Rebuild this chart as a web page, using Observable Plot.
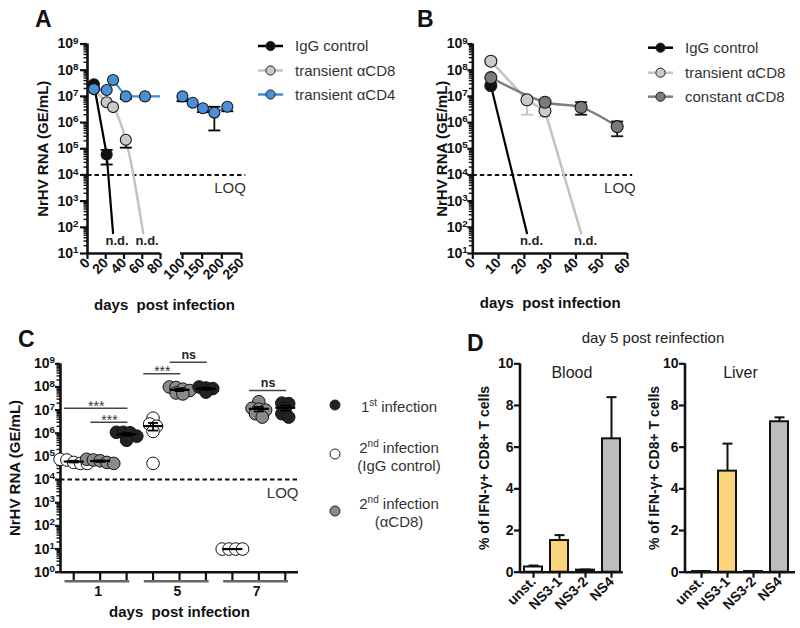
<!DOCTYPE html>
<html>
<head>
<meta charset="utf-8">
<script src="https://cdn.jsdelivr.net/npm/d3@7"></script>
<script src="https://cdn.jsdelivr.net/npm/@observablehq/plot@0.6"></script>
<style>
  html, body { margin: 0; padding: 0; background: #fff; }
  #fig { position: relative; width: 800px; height: 628px; overflow: hidden; background: #fff; }
</style>
</head>
<body>
<div id="fig"></div>
<script>
// ======================= DATA =======================
const LOQ = 1e4;
const ND_LEVEL = 60; // level at which "n.d." end points are drawn

// ---- Panel A ----
const A_SERIES = ["IgG control", "transient αCD8", "transient αCD4"];
const A_IGG_DAYS = [7, 21];
const A_IGG_VALS = [2.9e7, 6e4];
const A_TCD8_DAYS = [7, 21, 28, 42];
const A_TCD8_VALS = [1.9e7, 6e6, 3.9e6, 2.2e5];
const A_TCD4_DAYS = [7, 21, 28, 42, 63, 100, 126, 152, 181, 214];
const A_TCD4_VALS = [1.9e7, 1.75e7, 4.2e7, 1e7, 1e7, 1e7, 5.7e6, 3.5e6, 2.4e6, 4e6];
const A_ND_DAYS = [28, 61, null];
const A_ERR_SERIES = [0, 1, 2, 2, 2, 2, 2];
const A_ERR_DAYS = [21, 42, 42, 100, 152, 181, 214];
const A_ERR_LO = [2.5e4, 1.1e5, 8e6, 6.5e6, 2.5e6, 5e5, 2.7e6];
const A_ERR_HI = [9e4, null, null, null, null, 4e6, null];
const A_XTICKS = [0, 20, 40, 60, 80, 100, 150, 200, 250];

// ---- Panel B ----
const B_SERIES = ["IgG control", "transient αCD8", "constant αCD8"];
const B_IGG_DAYS = [7];
const B_IGG_VALS = [2.6e7];
const B_TCD8_DAYS = [7, 21, 28];
const B_TCD8_VALS = [2.2e8, 7.4e6, 2.8e6];
const B_CCD8_DAYS = [7, 28, 42, 56];
const B_CCD8_VALS = [5.2e7, 6e6, 3.8e6, 7e5];
const B_ND_DAYS = [21, 42, null];
const B_ERR_SERIES = [1, 1, 2, 2];
const B_ERR_DAYS = [21, 28, 42, 56];
const B_ERR_LO = [2e6, 1.7e6, 2e6, 3e5];
const B_ERR_HI = [null, null, 6e6, 1.1e6];
const B_XTICKS = [0, 10, 20, 30, 40, 50, 60];

// ---- Panel C ----
const C_DAYS = [1, 5, 7];
const C_GROUPS = ["2nd infection (IgG control)", "2nd infection (αCD8)", "1st infection"];
const C_IGG_D1 = [7.5e4, 7e4, 5.5e4, 5e4, 5e4];
const C_CD8_D1 = [7.5e4, 7e4, 6.5e4, 5.5e4, 5e4];
const C_1ST_D1 = [1.1e6, 1.1e6, 1.05e6, 7.5e5, 5e5];
const C_IGG_D5 = [4.5e6, 2.5e6, 2e6, 1.2e6, 5e4];
const C_CD8_D5 = [1e8, 9.5e7, 8e7, 7e7, 5.5e7, 5e7];
const C_1ST_D5 = [1e8, 9e7, 8.5e7, 6e7];
const C_IGG_D7 = [10, 10, 10, 10];
const C_CD8_D7 = [2.3e7, 1.2e7, 1.1e7, 1e7, 7e6, 5e6];
const C_1ST_D7 = [2e7, 1.9e7, 1.2e7, 7e6, 5e6];
const C_SIG_FROM = [1, 2, 4, 5, 8];
const C_SIG_TO = [3, 3, 5, 6, 9];
const C_SIG_Y = [1.2e7, 3e6, 3.7e8, 1.17e9, 7e7];
const C_SIG_TEXT = ["***", "***", "***", "ns", "ns"];

// ---- Panel D ----
const D_CATS = ["unst.", "NS3-1", "NS3-2", "NS4"];
const D_BLOOD = [0.25, 1.52, 0.1, 6.4];
const D_BLOOD_HI = [0.32, 1.78, 0.13, 8.4];
const D_LIVER = [0.03, 4.85, 0.03, 7.22];
const D_LIVER_HI = [0.05, 6.17, 0.05, 7.43];

// ======================= HELPERS =======================
const FONT = '"Liberation Sans", Arial, Helvetica, sans-serif';
const fig = document.getElementById("fig");
const baseStyle = {fontFamily: FONT, fontSize: "14px", background: "transparent", overflow: "visible", color: "#111"};
const CAP = {draw(ctx, size) { const w = Math.sqrt(size / Math.PI); ctx.moveTo(-w, 0); ctx.lineTo(w, 0); }};

function mount(svg, left, top, tickFont = 14) {
  svg.style.position = "absolute";
  svg.style.left = left + "px";
  svg.style.top = top + "px";
  svg.style.maxWidth = "none";
  fig.appendChild(svg);
  svg.querySelectorAll('g[aria-label$="tick label"] text').forEach(t => {
    t.style.fontSize = tickFont + "px";
    t.style.fontWeight = "bold";
    t.style.fill = "#111";
  });
  svg.querySelectorAll("text").forEach(t => {
    const m = /^10\^(-?\d+)$/.exec(t.textContent);
    if (m) {
      t.textContent = "10";
      const ts = document.createElementNS("http://www.w3.org/2000/svg", "tspan");
      ts.setAttribute("dy", "-0.5em");
      ts.style.fontSize = "0.7em";
      ts.textContent = m[1];
      t.appendChild(ts);
    }
  });
}

function logAxisMarks(lo, hi, tickSize, pad) {
  const majors = d3.range(lo, hi + 1).map(k => 10 ** k);
  const minors = d3.range(lo, hi).flatMap(k => d3.range(2, 10).map(m => m * 10 ** k));
  return [
    Plot.axisY({ticks: minors, tickSize: 3.5, tickFormat: () => "", strokeWidth: 1.4, label: null}),
    Plot.axisY({ticks: majors, tickSize, tickPadding: pad, tickFormat: d => `10^${Math.round(Math.log10(d))}`,
      strokeWidth: 2.2, label: null})
  ];
}

function buildSeries(names, daysArr, valsArr) {
  return names.flatMap((s, k) => daysArr[k].map((d, i) => ({s, day: d, v: valsArr[k][i]})));
}
function buildErr(names, rows, sIdx, days, lo, hi) {
  return days.map((d, i) => {
    const s = names[sIdx[i]];
    const pt = rows.find(r => r.s === s && r.day === d);
    return {s, day: d, lo: lo[i], hi: hi[i] ?? pt.v, two: hi[i] != null};
  });
}
const yTitle = (t, dx, size) => Plot.text([t], {frameAnchor: "left", dx, rotate: -90, textAnchor: "middle", fontSize: size, fontWeight: "bold"});
const xTitle = (t, dy) => Plot.text([t], {frameAnchor: "bottom", dy, lineAnchor: "top", textAnchor: "middle", fontSize: 15, fontWeight: "bold"});

// ======================= PANEL A =======================
const rowsA = buildSeries(A_SERIES, [A_IGG_DAYS, A_TCD8_DAYS, A_TCD4_DAYS], [A_IGG_VALS, A_TCD8_VALS, A_TCD4_VALS]);
const ndA = A_SERIES.map((s, k) => ({s, day: A_ND_DAYS[k], v: ND_LEVEL})).filter(d => d.day != null);
const errA = buildErr(A_SERIES, rowsA, A_ERR_SERIES, A_ERR_DAYS, A_ERR_LO, A_ERR_HI);
const colA = {
  "IgG control": {line: "#000", fill: "#111", curve: "linear", w: 2.2},
  "transient αCD8": {line: "#c3c3c3", fill: "#c9c9c9", curve: "catmull-rom", w: 2.5},
  "transient αCD4": {line: "#3b8ed8", fill: "#4a90d9", curve: "linear", w: 2.2}
};
const lineMarksA = A_SERIES.map(s => Plot.line(
  [...rowsA.filter(r => r.s === s), ...ndA.filter(r => r.s === s)],
  {x: "day", y: "v", stroke: colA[s].line, strokeWidth: colA[s].w, curve: colA[s].curve}));
const dotMarksA = A_SERIES.map(s => Plot.dot(rowsA.filter(r => r.s === s),
  {x: "day", y: "v", r: 5.5, fill: colA[s].fill, stroke: "#151515", strokeWidth: 1.1}));

const plotA = Plot.plot({
  width: 400, height: 320,
  marginLeft: 87, marginRight: 159, marginTop: 43.5, marginBottom: 67,
  style: baseStyle,
  x: {type: "linear", domain: [0, 80, 95, 250], range: [87, 160, 180, 241], label: null},
  y: {type: "log", domain: [10, 1e9], label: null},
  marks: [
    ...logAxisMarks(1, 9, 7, 2),
    Plot.axisX({ticks: A_XTICKS, tickSize: 6, tickRotate: -45, tickPadding: 1, strokeWidth: 2.2, label: null}),
    Plot.ruleX([0], {strokeWidth: 2.6}),
    Plot.ruleY([10], {x1: 0, x2: 80, strokeWidth: 2.6}),
    Plot.ruleY([10], {x1: 95, x2: 250, strokeWidth: 2.6}),
    Plot.ruleY([LOQ], {x1: 0, x2: 261, strokeWidth: 2, strokeDasharray: "4.5,3"}),
    Plot.text(["LOQ"], {x: 261, y: LOQ, dy: 7.4, lineAnchor: "top", textAnchor: "end", fontSize: 15, fill: "#333"}),
    ...lineMarksA,
    Plot.rect([0], {x1: 80, x2: 93.5, y1: 3e6, y2: 3e7, fill: "white"}),
    Plot.ruleX(errA, {x: "day", y1: "lo", y2: "hi", strokeWidth: 1.8}),
    Plot.dot(errA, {x: "day", y: "lo", symbol: CAP, r: 6, stroke: "#000", strokeWidth: 1.8, fill: "none"}),
    Plot.dot(errA.filter(e => e.two), {x: "day", y: "hi", symbol: CAP, r: 6, stroke: "#000", strokeWidth: 1.8, fill: "none"}),
    ...dotMarksA,
    Plot.text(ndA, {x: "day", y: "v", text: () => "n.d.", dx: 4, dy: 7.5, fontSize: 13, fontWeight: "bold", fill: "#222"}),
    yTitle("NrHV RNA (GE/mL)", -44, 15),
    xTitle("days\u00a0 post infection", 45.6)
  ]
});
mount(plotA, 0, 0);

// ======================= PANEL B =======================
const rowsB = buildSeries(B_SERIES, [B_IGG_DAYS, B_TCD8_DAYS, B_CCD8_DAYS], [B_IGG_VALS, B_TCD8_VALS, B_CCD8_VALS]);
const ndB = B_SERIES.map((s, k) => ({s, day: B_ND_DAYS[k], v: ND_LEVEL})).filter(d => d.day != null);
const errB = buildErr(B_SERIES, rowsB, B_ERR_SERIES, B_ERR_DAYS, B_ERR_LO, B_ERR_HI);
const colB = {
  "IgG control": {line: "#000", fill: "#111", curve: "linear", w: 2.2, err: "#000"},
  "transient αCD8": {line: "#c3c3c3", fill: "#c9c9c9", curve: "linear", w: 2.5, err: "#c3c3c3"},
  "constant αCD8": {line: "#7f7f7f", fill: "#7a7a7a", curve: "catmull-rom", w: 2.5, err: "#111"}
};
const lineMarksB = B_SERIES.map(s => Plot.line(
  [...rowsB.filter(r => r.s === s), ...ndB.filter(r => r.s === s)],
  {x: "day", y: "v", stroke: colB[s].line, strokeWidth: colB[s].w, curve: colB[s].curve}));
const errMarksB = B_SERIES.flatMap(s => {
  const e = errB.filter(d => d.s === s);
  const c = colB[s].err;
  return [
    Plot.ruleX(e, {x: "day", y1: "lo", y2: "hi", stroke: c, strokeWidth: 1.8}),
    Plot.dot(e, {x: "day", y: "lo", symbol: CAP, r: 6, stroke: c, strokeWidth: 1.8, fill: "none"}),
    Plot.dot(e.filter(d => d.two), {x: "day", y: "hi", symbol: CAP, r: 6, stroke: c, strokeWidth: 1.8, fill: "none"})
  ];
});
const dotMarksB = B_SERIES.map(s => Plot.dot(rowsB.filter(r => r.s === s),
  {x: "day", y: "v", r: 6, fill: colB[s].fill, stroke: "#151515", strokeWidth: 1.1}));

const plotB = Plot.plot({
  width: 400, height: 320,
  marginLeft: 72.3, marginRight: 173, marginTop: 43.5, marginBottom: 67,
  style: baseStyle,
  x: {type: "linear", domain: [0, 60], label: null},
  y: {type: "log", domain: [10, 1e9], label: null},
  marks: [
    ...logAxisMarks(1, 9, 5, 0),
    Plot.axisX({ticks: B_XTICKS, tickSize: 6, tickRotate: -45, tickPadding: 1, strokeWidth: 2.2, label: null}),
    Plot.ruleX([0], {strokeWidth: 2.6}),
    Plot.ruleY([10], {strokeWidth: 2.6}),
    Plot.ruleY([LOQ], {x1: 0, x2: 62, strokeWidth: 2, strokeDasharray: "4.5,3"}),
    Plot.text(["LOQ"], {x: 63.2, y: LOQ, dy: 7.4, lineAnchor: "top", textAnchor: "end", fontSize: 15, fill: "#333"}),
    ...lineMarksB,
    ...errMarksB,
    ...dotMarksB,
    Plot.text(ndB, {x: "day", y: "v", text: () => "n.d.", dx: 4.5, dy: 7.5, fontSize: 13, fontWeight: "bold", fill: "#222"}),
    yTitle("NrHV RNA (GE/mL)", -31, 15),
    xTitle("days\u00a0 post infection", 43.6)
  ]
});
mount(plotB, 400, 0);

// ======================= PANEL C =======================
const C_FRAME = {left: 60, right: 298, top: 43.3, bottom: 251.7};
const C_STEP = (C_FRAME.right - C_FRAME.left) / 9;        // px per slot
const C_DECADE = (C_FRAME.bottom - C_FRAME.top) / 9;      // px per decade
const cSets = [
  [C_IGG_D1, C_CD8_D1, C_1ST_D1],
  [C_IGG_D5, C_CD8_D5, C_1ST_D5],
  [C_IGG_D7, C_CD8_D7, C_1ST_D7]
];
function clusterOffsets(vals, spacing, bin) {
  const order = d3.range(vals.length).sort((a, b) => vals[b] - vals[a]);
  const offs = new Array(vals.length);
  let group = [], y0 = null;
  const flush = () => { group.forEach((i, j) => offs[i] = (j - (group.length - 1) / 2) * spacing); group = []; };
  for (const i of order) {
    const y = Math.log10(vals[i]) * C_DECADE;
    if (y0 === null || y0 - y > bin) { flush(); y0 = y; }
    group.push(i);
  }
  flush();
  return offs;
}
const rowsC = [], statsC = [];
cSets.forEach((sets, di) => sets.forEach((vals, gi) => {
  const slot = di * 3 + gi + 1;
  const offs = clusterOffsets(vals, 6.8, 4.5);
  vals.forEach((v, i) => rowsC.push({day: C_DAYS[di], g: C_GROUPS[gi], slot, x: slot + offs[i] / C_STEP, v}));
  const mean = d3.mean(vals), sem = d3.deviation(vals) / Math.sqrt(vals.length);
  statsC.push({slot, mean, lo: mean - sem, hi: mean + sem});
}));
const fillC = {"2nd infection (IgG control)": "#ffffff", "2nd infection (αCD8)": "#8a8a8a", "1st infection": "#222222"};
const sigC = C_SIG_FROM.map((f, i) => ({x1: f - 0.35, x2: C_SIG_TO[i] + 0.05, y: C_SIG_Y[i], t: C_SIG_TEXT[i]}));
const groupC = C_DAYS.map((d, i) => ({day: String(d), first: i * 3 + 1, last: i * 3 + 3}));

const plotC = Plot.plot({
  width: 300, height: 308,
  marginLeft: C_FRAME.left, marginRight: 300 - C_FRAME.right, marginTop: C_FRAME.top, marginBottom: 308 - C_FRAME.bottom,
  style: baseStyle,
  x: {type: "linear", domain: [0.5, 9.5], label: null},
  y: {type: "log", domain: [1, 1e9], label: null},
  marks: [
    ...logAxisMarks(0, 9, 5, 0.5),
    Plot.axisX({ticks: d3.range(1, 10), tickSize: 9, tickFormat: () => "", strokeWidth: 2.2, label: null}),
    Plot.ruleX([0.5], {strokeWidth: 2.6}),
    Plot.ruleY([1], {strokeWidth: 2.6}),
    Plot.ruleY(groupC, {y: 1, x1: d => d.first - 0.33, x2: d => d.last + 0.12, dy: 9, stroke: "#666", strokeWidth: 2.6}),
    Plot.text(groupC, {x: d => (d.first + d.last) / 2 - 0.08, y: 1, text: "day", dy: 14.3, lineAnchor: "top", fontSize: 14, fontWeight: "bold"}),
    Plot.ruleY([LOQ], {strokeWidth: 2, strokeDasharray: "4.5,3"}),
    Plot.text(["LOQ"], {frameAnchor: "right", y: LOQ, dy: 7.6, lineAnchor: "top", textAnchor: "end", fontSize: 15, fill: "#333"}),
    Plot.ruleY(sigC, {y: "y", x1: "x1", x2: "x2", stroke: "#444", strokeWidth: 1.6}),
    Plot.text(sigC.filter(d => d.t === "***"), {x: d => (d.x1 + d.x2) / 2, y: "y", text: "t", dy: 2.5, lineAnchor: "bottom", fontSize: 14, fill: "#333"}),
    Plot.text(sigC.filter(d => d.t === "ns"), {x: d => (d.x1 + d.x2) / 2, y: "y", text: "t", dy: -3.4, lineAnchor: "bottom", fontSize: 12.5, fontWeight: "bold", fill: "#222"}),
    ...C_GROUPS.map(g => Plot.dot(rowsC.filter(r => r.g === g), {x: "x", y: "v", r: 6.3, fill: fillC[g], stroke: "#111", strokeWidth: 1})),
    Plot.ruleX(statsC, {x: "slot", y1: "lo", y2: "hi", strokeWidth: 1.8}),
    Plot.dot(statsC, {x: "slot", y: "mean", symbol: CAP, r: 10, stroke: "#000", strokeWidth: 2.2, fill: "none"}),
    Plot.dot(statsC, {x: "slot", y: "lo", symbol: CAP, r: 5, stroke: "#000", strokeWidth: 1.8, fill: "none"}),
    Plot.dot(statsC, {x: "slot", y: "hi", symbol: CAP, r: 5, stroke: "#000", strokeWidth: 1.8, fill: "none"}),
    yTitle("NrHV RNA (GE/mL)", -45, 15),
    xTitle("days\u00a0 post infection", 34)
  ]
});
mount(plotC, 0, 320);

// ======================= PANEL D =======================
const D_FILLS = ["#ffffff", "#fdd47e", "#1c1f33", "#bdbdbd"];
function barPanel(vals, his, title, opts) {
  const rows = D_CATS.map((c, i) => ({c, v: vals[i], hi: his[i]}));
  return Plot.plot({
    width: opts.width, height: 308,
    marginLeft: opts.ml, marginRight: opts.mr, marginTop: 43.3, marginBottom: 56.3,
    style: baseStyle,
    x: {type: "band", domain: D_CATS, paddingInner: 0.32, paddingOuter: opts.po, label: null},
    y: {domain: [0, 10], label: null},
    color: {domain: D_CATS, range: D_FILLS},
    marks: [
      Plot.axisY({ticks: [0, 2, 4, 6, 8, 10], tickSize: 6, tickPadding: 1, strokeWidth: 2.2, label: null}),
      Plot.axisX({tickSize: 6, tickRotate: -45, tickPadding: 1, strokeWidth: 2.2, label: null}),
      Plot.barY(rows, {x: "c", y: "v", fill: "c", stroke: "#111", strokeWidth: 2}),
      Plot.ruleX(rows, {x: "c", y1: "v", y2: "hi", strokeWidth: 2}),
      Plot.dot(rows, {x: "c", y: "hi", symbol: CAP, r: 5, stroke: "#111", strokeWidth: 2, fill: "none"}),
      Plot.ruleY([0], {strokeWidth: 2.6}),
      Plot.text([title], {frameAnchor: "top", dy: 3.3, lineAnchor: "top", textAnchor: "middle", fontSize: 16, fill: "#222"}),
      yTitle("% of IFN-γ+ CD8+ T cells", opts.labelDx, 14)
    ]
  });
}
const plotBlood = barPanel(D_BLOOD, D_BLOOD_HI, "Blood", {width: 190, ml: 80, mr: 7.2, po: 0.13, labelDx: -36});
const plotLiver = barPanel(D_LIVER, D_LIVER_HI, "Liver", {width: 180, ml: 65, mr: 5, po: 0.275, labelDx: -31});
mount(plotBlood, 440, 320);
mount(plotLiver, 620, 320);
// y axis lines for D (frame edge)
[plotBlood, plotLiver].forEach((svg, k) => {
  const ml = k === 0 ? 80 : 65;
  const ln = document.createElementNS("http://www.w3.org/2000/svg", "line");
  ln.setAttribute("x1", ml); ln.setAttribute("x2", ml);
  ln.setAttribute("y1", 43.3); ln.setAttribute("y2", 308 - 56.3);
  ln.setAttribute("stroke", "#111"); ln.setAttribute("stroke-width", 2.6);
  svg.appendChild(ln);
});

// ======================= OVERLAY TEXT & LEGENDS =======================
const ov = d3.create("svg").attr("width", 800).attr("height", 628)
  .style("position", "absolute").style("left", "0px").style("top", "0px")
  .style("font-family", FONT).style("pointer-events", "none");
[["A", 35, 27], ["B", 417, 27], ["C", 18, 347], ["D", 467, 351]].forEach(([t, x, y]) =>
  ov.append("text").attr("x", x).attr("y", y).attr("font-size", 23).attr("font-weight", "bold").attr("fill", "#111").text(t));

function lineLegend(items, x0, x1, tx, ys) {
  items.forEach((it, i) => {
    const y = ys[i];
    ov.append("line").attr("x1", x0).attr("x2", x1).attr("y1", y).attr("y2", y).attr("stroke", it.line).attr("stroke-width", 2.5);
    ov.append("circle").attr("cx", (x0 + x1) / 2).attr("cy", y).attr("r", 4.6).attr("fill", it.fill).attr("stroke", "#222").attr("stroke-width", 1);
    ov.append("text").attr("x", tx).attr("y", y + 5.3).attr("font-size", 15).attr("fill", "#333").text(it.label);
  });
}
lineLegend(A_SERIES.map(s => ({label: s, line: colA[s].line, fill: colA[s].fill})), 258, 283, 295, [46, 70.5, 94.5]);
lineLegend(B_SERIES.map(s => ({label: s, line: colB[s].line, fill: colB[s].fill})), 648, 673, 685, [47.7, 72.7, 96.7]);

// legend C
const legC = [
  {g: "1st infection", cy: 405, lines: [["1", "st", " infection"]], ys: [411.5]},
  {g: "2nd infection (IgG control)", cy: 454, lines: [["2", "nd", " infection"], ["(IgG control)"]], ys: [452.5, 470.5]},
  {g: "2nd infection (αCD8)", cy: 511, lines: [["2", "nd", " infection"], ["(αCD8)"]], ys: [509, 527]}
];
legC.forEach(it => {
  ov.append("circle").attr("cx", 335).attr("cy", it.cy).attr("r", 5).attr("fill", fillC[it.g]).attr("stroke", "#222").attr("stroke-width", 1);
  it.lines.forEach((parts, j) => {
    const t = ov.append("text").attr("x", 399).attr("y", it.ys[j]).attr("font-size", 15).attr("fill", "#333").attr("text-anchor", "middle");
    if (parts.length === 1) t.text(parts[0]);
    else {
      t.append("tspan").text(parts[0]);
      t.append("tspan").attr("font-size", 10).attr("dy", -6).text(parts[1]);
      t.append("tspan").attr("dy", 6).text(parts[2]);
    }
  });
});
ov.append("text").attr("x", 653).attr("y", 343).attr("font-size", 15).attr("fill", "#222").attr("text-anchor", "middle").text("day 5 post reinfection");
fig.appendChild(ov.node());
</script>
</body>
</html>
